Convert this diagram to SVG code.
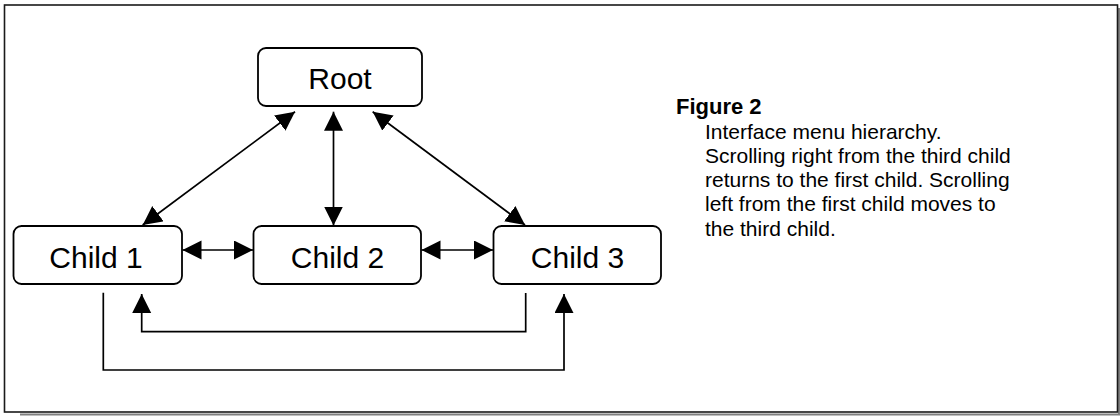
<svg xmlns="http://www.w3.org/2000/svg" width="1120" height="416" viewBox="0 0 1120 416">
  <style>
    .box { fill: #ffffff; stroke: #000000; stroke-width: 1.8; }
    .lbl { font-family: "Liberation Sans", Arial, sans-serif; font-size: 30px; fill: #000000; text-anchor: middle; }
    .conn { fill: none; stroke: #000000; stroke-width: 1.7; }
    .cap { font-family: "Liberation Sans", Arial, sans-serif; font-size: 21px; fill: #000000; }
    .capt { font-family: "Liberation Sans", Arial, sans-serif; font-size: 22px; font-weight: bold; fill: #000000; }
  </style>
  <defs>
    <marker id="ah" markerUnits="userSpaceOnUse" markerWidth="20" markerHeight="20" refX="19" refY="9.5" orient="auto-start-reverse" viewBox="0 0 20 20">
      <path d="M0,0 L19,9.5 L0,19 z" fill="#000000"/>
    </marker>
  </defs>
  <rect x="0" y="0" width="1120" height="416" fill="#ffffff"/>
  <g id="frame">
    <polyline points="1119,8 1119,414.5 20,414.5" fill="none" stroke="#808080" stroke-width="2"/>
    <rect x="4.5" y="5" width="1113" height="407" fill="none" stroke="#1a1a1a" stroke-width="1.6"/>
  </g>
  <g id="connectors">
    <line class="conn" x1="142.7" y1="225" x2="295" y2="111.7" marker-start="url(#ah)" marker-end="url(#ah)"/>
    <line class="conn" x1="333.5" y1="111.7" x2="333.5" y2="225.5" marker-start="url(#ah)" marker-end="url(#ah)"/>
    <line class="conn" x1="372.7" y1="111.7" x2="525" y2="225" marker-start="url(#ah)" marker-end="url(#ah)"/>
    <line class="conn" x1="182.5" y1="250" x2="253" y2="250" marker-start="url(#ah)" marker-end="url(#ah)"/>
    <line class="conn" x1="421.5" y1="250" x2="493" y2="250" marker-start="url(#ah)" marker-end="url(#ah)"/>
    <path class="conn" d="M525.7,293 V331.7 H141.7 V294" marker-end="url(#ah)"/>
    <path class="conn" d="M103.3,292.7 V370 H564 V294" marker-end="url(#ah)"/>
  </g>
  <g id="root">
    <rect class="box" x="258" y="48" width="164" height="58" rx="8"/>
    <text class="lbl" x="340" y="89">Root</text>
  </g>
  <g id="child1">
    <rect class="box" x="13.5" y="226" width="168.5" height="58" rx="8"/>
    <text class="lbl" x="96" y="268">Child 1</text>
  </g>
  <g id="child2">
    <rect class="box" x="253.5" y="226" width="167.5" height="58" rx="8"/>
    <text class="lbl" x="337.5" y="268">Child 2</text>
  </g>
  <g id="child3">
    <rect class="box" x="493.5" y="226" width="167.5" height="58" rx="8"/>
    <text class="lbl" x="577.5" y="268">Child 3</text>
  </g>
  <g id="caption">
    <text class="capt" x="676" y="113.5">Figure 2</text>
    <text class="cap" x="705" y="139">Interface menu hierarchy.</text>
    <text class="cap" x="705" y="163">Scrolling right from the third child</text>
    <text class="cap" x="705" y="187">returns to the first child. Scrolling</text>
    <text class="cap" x="705" y="211">left from the first child moves to</text>
    <text class="cap" x="705" y="235.5">the third child.</text>
  </g>
</svg>
